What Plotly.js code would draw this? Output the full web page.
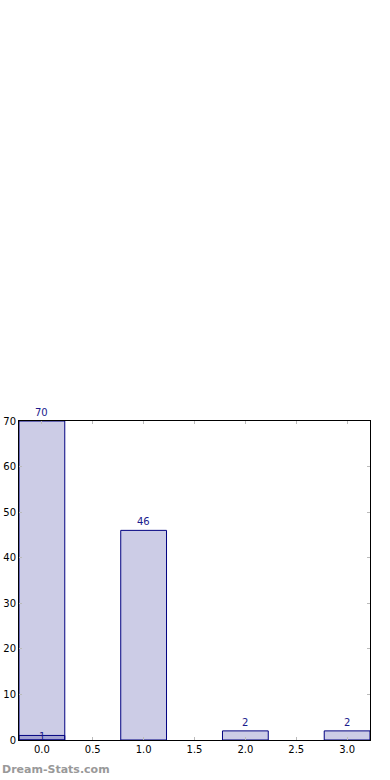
<!DOCTYPE html>
<html>
<head>
<meta charset="utf-8">
<script src="https://cdn.plot.ly/plotly-3.0.1.min.js"></script>
<style>
  html, body { margin: 0; padding: 0; background: #fff; }
  #chart { width: 390px; height: 780px; }
</style>
</head>
<body>
<div id="chart"></div>
<script>
// Data
const categories = [0, 1, 2, 3];
const counts = [70, 46, 2, 2];
const subCategories = [0];
const subCounts = [1];
const xTickVals = [0, 0.5, 1, 1.5, 2, 2.5, 3];
const yTickVals = [0, 10, 20, 30, 40, 50, 60, 70];
const watermark = "Dream-Stats.com";

const barColor = "rgba(0,0,128,0.2)";
const edgeColor = "#000080";
const labelColor = "#1a1a8c";

const traces = [
  {
    type: "bar", x: categories, y: counts, width: 0.45,
    marker: { color: barColor, line: { color: edgeColor, width: 1 } },
    hoverinfo: "none"
  },
  {
    type: "bar", x: subCategories, y: subCounts, width: 0.45,
    marker: { color: barColor, line: { color: edgeColor, width: 1 } },
    hoverinfo: "none"
  }
];

const annotations = [];
categories.forEach((c, i) => {
  annotations.push({
    x: c, y: counts[i], xref: "x", yref: "y", text: String(counts[i]),
    showarrow: false, yanchor: "bottom", yshift: 1,
    font: { family: "DejaVu Sans", size: 10, color: labelColor }
  });
});
subCategories.forEach((c, i) => {
  annotations.push({
    x: c, y: subCounts[i], xref: "x", yref: "y", text: String(subCounts[i]),
    showarrow: false, yanchor: "middle", yshift: -1,
    font: { family: "DejaVu Sans", size: 10, color: labelColor }
  });
});
annotations.push({
  x: -19 / 351, y: -30 / 319.5, xref: "paper", yref: "paper",
  xanchor: "left", yanchor: "middle", showarrow: false,
  text: "<b>" + watermark + "</b>",
  font: { family: "DejaVu Sans", size: 11, color: "#999999" }
});

const layout = {
  width: 390, height: 780,
  margin: { l: 19, r: 20, t: 421, b: 40, pad: 0 },
  paper_bgcolor: "#ffffff", plot_bgcolor: "#ffffff",
  barmode: "overlay",
  showlegend: false,
  font: { family: "DejaVu Sans", size: 10, color: "#000000" },
  xaxis: {
    range: [-0.225, 3.225],
    tickvals: xTickVals, ticktext: xTickVals.map(v => v.toFixed(1)),
    ticks: "inside", ticklen: 3, tickcolor: "#bbbbbb", tickwidth: 1,
    showline: true, linecolor: "#000000", linewidth: 1, mirror: "ticks",
    showgrid: false, zeroline: false,
    tickfont: { family: "DejaVu Sans", size: 10, color: "#000000" }
  },
  yaxis: {
    range: [0, 70],
    tickvals: yTickVals,
    ticks: "inside", ticklen: 3, tickcolor: "#bbbbbb", tickwidth: 1,
    showline: true, linecolor: "#000000", linewidth: 1, mirror: "ticks",
    showgrid: false, zeroline: false,
    tickfont: { family: "DejaVu Sans", size: 10, color: "#000000" }
  },
  annotations: annotations
};

Plotly.newPlot("chart", traces, layout, { displayModeBar: false, staticPlot: true });
</script>
</body>
</html>
